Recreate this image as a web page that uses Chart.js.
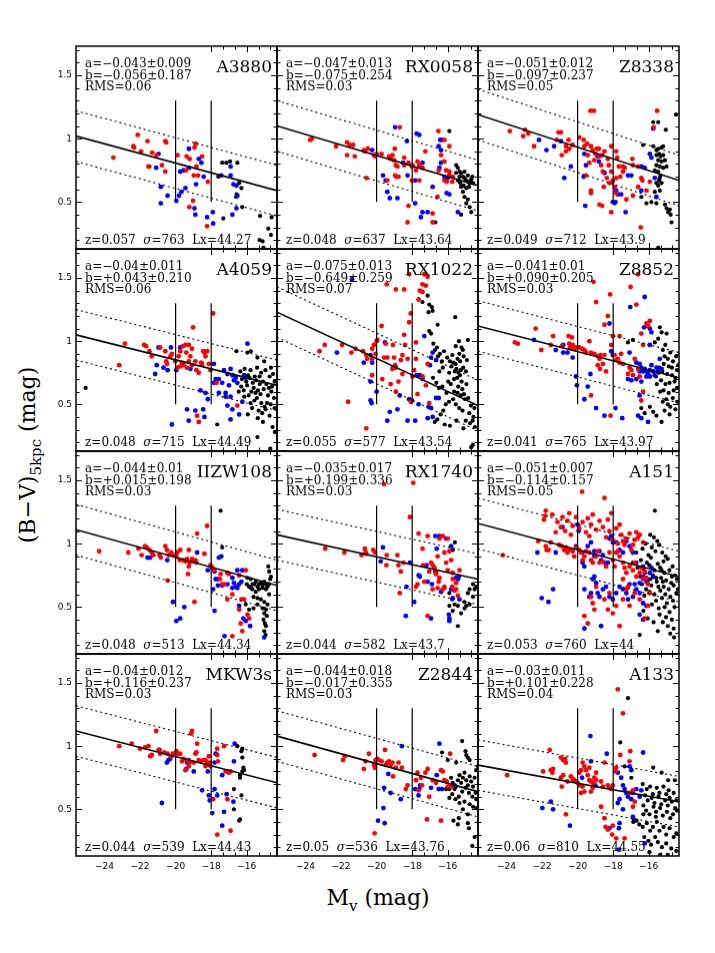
<!DOCTYPE html>
<html>
<head>
<meta charset="utf-8">
<script src="https://cdn.jsdelivr.net/npm/chart.js@4.4.0/dist/chart.umd.min.js"></script>
<style>
  html,body{margin:0;padding:0;background:#fff;}
  #wrap{position:relative;width:715px;height:953px;overflow:hidden;background:#fff;}
  canvas{position:absolute;}
  .ytitle{position:absolute;left:30px;top:455px;transform:translate(-50%,-50%) rotate(-90deg);font-family:"DejaVu Serif",serif;font-size:22px;white-space:nowrap;color:#000;}
  .xtitle{position:absolute;left:378px;top:900px;transform:translate(-50%,-50%);font-family:"DejaVu Serif",serif;font-size:22px;white-space:nowrap;color:#000;}
  sub{font-size:15px;}
</style>
</head>
<body>
<div id="wrap">
  <div class="ytitle">(B−V)<sub>5kpc</sub> (mag)</div>
  <div class="xtitle">M<sub>v</sub> (mag)</div>
</div>
<script>
// ---------------- DATA ----------------
const clusterNames = ['A3880','RX0058','Z8338','A4059','RX1022','Z8852','IIZW108','RX1740','A151','MKW3s','Z2844','A133'];
const slopeLabels = ['−0.043±0.009','−0.047±0.013','−0.051±0.012','−0.04±0.011','−0.075±0.013','−0.041±0.01','−0.044±0.01','−0.035±0.017','−0.051±0.007','−0.04±0.012','−0.044±0.018','−0.03±0.011'];
const interceptLabels = ['−0.056±0.187','−0.075±0.254','−0.097±0.237','+0.043±0.210','−0.649±0.259','+0.090±0.205','+0.015±0.198','+0.199±0.336','−0.114±0.157','+0.116±0.237','−0.017±0.355','+0.101±0.228'];
const rmsLabels = ['0.06','0.03','0.05','0.06','0.07','0.03','0.03','0.03','0.05','0.03','0.03','0.04'];
const redshiftLabels = ['0.057','0.048','0.049','0.048','0.055','0.041','0.048','0.044','0.053','0.044','0.05','0.06'];
const sigmaLabels = ['763','637','712','715','577','765','513','582','760','539','536','810'];
const lxLabels = ['44.27','43.64','43.9','44.49','43.54','43.97','44.34','43.7','44','44.43','43.76','44.55'];

// fitted relation: colour at left (Mv=-25.6) and right (Mv=-14.3) edge
const fitLeft  = [1.02,1.10,1.19,1.05,1.23,1.12,1.11,1.07,1.16,1.12,1.08,0.85];
const fitRight = [0.59,0.63,0.67,0.65,0.49,0.71,0.67,0.72,0.74,0.71,0.64,0.56];
const bandOffset = 0.2;
const magCuts = [-20,-18];
const cutRange = [0.5,1.3];
const xRange = [-25.6,-14.3];
const yRange = [0.13,1.73];
const xTickLabels = [-24,-22,-20,-18,-16];
const yTickLabels = [0.5,1,1.5];

const red_A3880 = [[-23.5,0.85],[-22.38,0.94],[-22.34,0.93],[-22.13,1.03],[-21.94,0.90],[-21.58,0.98],[-21.32,0.89],[-21.53,0.78],[-20.58,0.98],[-20.53,0.97],[-21.08,0.87],[-20.77,0.79],[-19.89,0.87],[-19.38,0.86],[-18.87,0.96],[-18.94,0.93],[-19.21,0.84],[-18.51,0.86],[-18.83,0.78],[-18.98,0.71],[-18.74,0.71],[-18.19,0.66],[-19.02,0.51],[-19.23,0.46],[-18.23,0.31],[-19.42,0.75],[-20.58,0.74]];
const blue_A3880 = [[-20.96,0.88],[-21.09,0.77],[-20.83,0.62],[-20.45,0.55],[-20.83,0.49],[-19.96,0.51],[-19.81,0.55],[-19.68,0.58],[-19.45,0.61],[-19.74,0.74],[-19.55,0.75],[-19.25,0.77],[-19.25,0.92],[-18.70,0.84],[-18.85,0.64],[-18.89,0.40],[-18.94,0.45],[-18.42,0.70],[-18.23,0.38],[-17.91,0.42],[-17.89,0.33],[-17.43,0.71],[-16.91,0.78],[-16.91,0.71],[-16.75,0.64],[-16.58,0.63],[-16.53,0.55],[-16.81,0.40],[-16.58,0.45],[-18.55,0.81]];
const black_A3880 = [[-21.47,0.78],[-17.6,0.70],[-17.38,0.81],[-16.94,0.82],[-16.53,0.81],[-17.15,0.81],[-16.43,0.65],[-16.30,0.61],[-16.57,0.56],[-16.6,0.54],[-16.25,0.46],[-17.32,0.37],[-15.25,0.39],[-14.6,0.38],[-14.79,0.29],[-14.64,0.24],[-15.28,0.20],[-15.11,0.19],[-15.06,0.14]];

const red_RX0058 = [[-23.74,0.99],[-23.64,1.00],[-22.28,0.94],[-21.66,0.97],[-21.51,0.95],[-21.32,0.95],[-21.66,0.87],[-21.23,0.86],[-20.72,0.91],[-20.66,0.90],[-20.49,0.92],[-20.15,0.87],[-20.09,0.86],[-20.0,0.88],[-19.72,0.88],[-19.30,0.86],[-19.21,0.84],[-18.98,0.92],[-19.11,0.87],[-19.02,0.83],[-18.70,1.09],[-18.45,0.85],[-18.92,0.79],[-18.83,0.78],[-18.45,0.79],[-18.21,0.81],[-17.98,0.79],[-17.70,0.82],[-17.60,0.79],[-18.02,0.78],[-17.42,0.77],[-17.79,0.75],[-18.02,0.67],[-17.60,0.67],[-18.96,0.71],[-18.89,0.70],[-18.77,0.70],[-18.21,0.47],[-18.26,0.34],[-19.40,0.67],[-20.57,0.69],[-17.26,0.90],[-16.53,1.06],[-16.19,0.99],[-15.91,0.94],[-16.38,0.87],[-16.19,0.82],[-16.09,0.75],[-15.91,0.74],[-15.91,0.71],[-16.19,0.67],[-16.06,0.66],[-16.51,0.75],[-15.72,0.70],[-15.75,0.66],[-16.85,0.34],[-16.58,0.54],[-16.85,0.41]];
const blue_RX0058 = [[-20.25,0.91],[-18.96,1.09],[-17.75,1.04],[-17.60,1.03],[-18.30,0.98],[-19.64,0.71],[-19.49,0.67],[-19.40,0.58],[-19.26,0.53],[-18.83,0.53],[-18.26,0.71],[-17.83,0.67],[-17.83,0.49],[-17.42,0.81],[-16.85,0.62],[-17.42,0.42],[-17.13,0.42],[-17.51,0.38],[-16.42,0.99],[-16.32,0.99],[-16.51,0.94],[-16.38,0.91],[-16.38,0.81],[-16.47,0.77],[-16.19,0.70],[-16.0,0.69],[-16.06,0.57],[-15.91,0.56],[-15.43,0.42],[-18.51,0.81]];
const black_RX0058 = [[-15.91,1.06],[-16.70,0.34],[-15.53,0.79],[-15.43,0.77],[-15.34,0.74],[-15.25,0.73],[-15.15,0.70],[-15.06,0.69],[-14.96,0.67],[-14.87,0.66],[-14.77,0.65],[-14.68,0.68],[-15.38,0.67],[-15.30,0.65],[-15.11,0.63],[-14.96,0.61],[-14.81,0.62],[-14.72,0.66],[-14.62,0.70],[-15.15,0.58],[-15.06,0.54],[-14.87,0.52],[-14.96,0.49],[-14.77,0.46],[-14.68,0.42],[-15.25,0.40],[-15.43,0.67],[-15.25,0.62],[-15.06,0.74],[-14.87,0.71],[-14.58,0.65],[-15.53,0.73],[-15.34,0.70]];

const red_Z8338 = [[-23.81,1.06],[-22.96,1.07],[-23.06,1.02],[-22.77,1.04],[-22.45,0.94],[-21.17,0.99],[-21.08,1.05],[-20.94,1.05],[-20.66,0.94],[-20.89,0.87],[-20.66,0.90],[-20.47,0.92],[-20.51,0.99],[-20.28,0.95],[-19.91,1.01],[-19.66,0.99],[-19.28,1.22],[-19.09,1.22],[-19.62,0.94],[-19.47,0.96],[-19.25,0.94],[-19.15,0.91],[-19.0,0.88],[-18.92,0.92],[-18.81,0.92],[-18.77,0.86],[-18.62,0.87],[-18.49,0.90],[-18.30,0.84],[-18.25,0.79],[-18.11,0.94],[-17.83,0.90],[-17.77,0.85],[-17.68,0.78],[-17.45,0.78],[-19.43,0.87],[-19.34,0.81],[-19.53,0.71],[-19.25,0.59],[-19.25,0.57],[-19.06,0.83],[-18.68,0.79],[-18.58,0.74],[-18.53,0.62],[-18.36,0.69],[-18.02,0.67],[-17.83,0.69],[-17.60,0.70],[-17.45,0.74],[-17.36,0.77],[-16.92,0.84],[-16.89,0.79],[-16.60,0.78],[-16.60,0.62],[-16.42,0.69],[-16.36,0.67],[-16.13,0.59],[-15.94,0.66],[-15.53,1.22],[-15.72,1.09],[-18.77,0.48],[-18.62,0.47],[-18.11,0.42],[-17.83,0.57],[-16.89,0.55],[-16.45,0.30],[-17.26,0.52],[-18.21,0.65],[-17.92,0.62],[-18.11,0.74]];
const blue_Z8338 = [[-22.17,0.99],[-21.75,0.91],[-21.32,0.94],[-20.94,0.98],[-20.38,0.78],[-20.75,0.69],[-19.62,0.88],[-19.53,0.79],[-19.66,0.70],[-19.57,0.47],[-18.81,0.82],[-18.87,0.86],[-18.49,0.73],[-18.02,0.50],[-17.87,0.50],[-17.74,0.56],[-17.55,0.56],[-17.83,0.59],[-17.30,0.42],[-17.17,0.71],[-16.98,0.71],[-16.42,0.78],[-15.94,0.88],[-15.75,1.08],[-15.85,0.85],[-15.66,0.69],[-15.57,0.54],[-16.42,0.59],[-16.23,0.77]];
const black_Z8338 = [[-16.32,0.95],[-15.75,1.13],[-15.47,1.13],[-15.04,1.07],[-15.75,0.94],[-15.57,0.91],[-15.47,0.92],[-15.28,0.93],[-15.19,0.94],[-15.42,0.88],[-15.34,0.86],[-15.47,0.83],[-15.57,0.79],[-15.38,0.78],[-15.19,0.77],[-15.66,0.75],[-15.47,0.74],[-15.34,0.71],[-15.19,0.87],[-15.0,0.78],[-15.42,0.67],[-15.57,0.65],[-15.47,0.63],[-15.38,0.59],[-15.66,0.58],[-15.57,0.49],[-15.85,0.50],[-15.09,0.48],[-15.0,0.45],[-14.81,0.44],[-14.77,0.40],[-14.91,0.42],[-14.72,0.34],[-14.47,1.19],[-15.47,0.14],[-16.13,0.49],[-16.42,0.54],[-18.02,0.66],[-17.92,0.49],[-15.28,0.82],[-15.09,0.83],[-15.57,0.87],[-15.38,0.69],[-15.28,0.65]];

const red_A4059 = [[-23.17,0.81],[-22.85,0.98],[-21.77,0.97],[-21.47,0.92],[-21.34,0.88],[-21.66,0.96],[-20.87,0.95],[-20.58,0.92],[-20.53,0.84],[-20.49,0.82],[-20.30,0.88],[-20.21,0.90],[-20.02,0.84],[-19.83,0.88],[-19.74,0.92],[-19.58,0.96],[-19.45,0.97],[-19.26,0.97],[-19.08,0.94],[-19.40,0.91],[-19.17,0.88],[-19.64,0.83],[-19.55,0.81],[-19.36,0.79],[-19.26,0.84],[-19.08,0.81],[-18.89,0.84],[-19.74,0.80],[-19.92,0.79],[-18.45,0.92],[-18.38,0.91],[-18.32,0.88],[-18.23,0.92],[-18.57,0.83],[-18.51,0.82],[-18.83,0.77],[-18.70,0.75],[-19.02,1.11],[-17.89,1.22],[-18.04,0.77],[-18.79,0.41],[-18.70,0.36],[-18.13,0.82],[-17.70,0.67],[-16.53,0.49]];
const blue_A4059 = [[-20.96,0.95],[-21.06,0.81],[-21.15,0.74],[-20.68,0.79],[-20.45,0.77],[-20.26,0.95],[-19.74,0.95],[-19.96,0.77],[-19.17,0.78],[-19.36,0.46],[-19.26,0.37],[-18.89,0.45],[-18.45,0.46],[-18.38,0.40],[-20.21,0.34],[-18.60,0.61],[-18.32,0.59],[-18.19,0.54],[-17.85,0.82],[-17.75,0.70],[-17.85,0.67],[-17.57,0.70],[-17.57,0.59],[-17.38,0.67],[-17.28,0.77],[-17.09,0.74],[-16.91,0.78],[-16.81,0.73],[-16.72,0.69],[-16.62,0.71],[-16.53,0.67],[-17.0,0.65],[-17.19,0.59],[-16.91,0.56],[-17.09,0.49],[-16.81,0.46],[-16.91,0.38],[-16.43,0.42],[-16.25,0.52],[-16.15,0.73],[-15.96,0.98],[-16.06,0.71],[-17.19,0.56]];
const black_A4059 = [[-25.06,0.63],[-16.58,0.92],[-15.96,0.91],[-15.77,0.92],[-15.40,0.87],[-15.02,0.84],[-14.64,0.79],[-16.36,0.76],[-16.12,0.78],[-15.93,0.73],[-15.79,0.77],[-15.55,0.72],[-15.42,0.79],[-15.19,0.75],[-14.95,0.77],[-14.71,0.72],[-14.52,0.74],[-16.27,0.70],[-16.03,0.68],[-15.85,0.71],[-15.66,0.67],[-15.47,0.69],[-15.28,0.72],[-15.09,0.68],[-14.90,0.66],[-14.76,0.63],[-14.43,0.68],[-16.31,0.64],[-16.17,0.61],[-15.98,0.65],[-15.74,0.60],[-15.61,0.63],[-15.37,0.61],[-15.23,0.58],[-15.05,0.62],[-14.81,0.57],[-14.62,0.60],[-14.47,0.55],[-16.14,0.56],[-15.89,0.57],[-15.57,0.53],[-15.43,0.55],[-15.18,0.51],[-15.00,0.48],[-14.86,0.51],[-14.66,0.50],[-14.44,0.47],[-15.70,0.47],[-15.33,0.45],[-15.13,0.43],[-14.94,0.46],[-14.72,0.41],[-15.94,0.42],[-15.38,0.39],[-15.09,0.36],[-15.79,0.51],[-15.51,0.59],[-17.66,0.34],[-15.40,0.24],[-14.68,0.15],[-14.55,0.32],[-14.42,0.28],[-16.45,0.60],[-15.27,0.66],[-14.58,0.64]];

const red_RX1022 = [[-23.21,0.92],[-22.92,0.97],[-21.94,0.97],[-21.42,0.91],[-21.19,0.94],[-20.77,0.92],[-20.58,0.89],[-20.53,0.86],[-20.25,0.94],[-20.15,0.97],[-20.25,0.86],[-20.06,0.90],[-20.0,1.0],[-19.96,1.01],[-19.72,1.12],[-19.49,0.98],[-19.58,0.87],[-19.40,0.87],[-19.08,0.97],[-19.02,0.87],[-18.96,0.81],[-18.92,0.79],[-18.64,0.85],[-18.55,0.89],[-18.55,0.74],[-18.45,1.05],[-18.40,0.97],[-18.26,0.86],[-18.17,1.15],[-18.08,1.22],[-18.08,0.52],[-17.98,0.72],[-17.89,0.77],[-17.79,0.86],[-17.79,0.99],[-17.64,1.33],[-17.70,0.58],[-17.57,1.40],[-17.42,1.45],[-17.42,1.39],[-17.23,1.44],[-17.13,1.51],[-17.32,1.53],[-17.13,0.82],[-17.42,0.72],[-17.23,0.65],[-17.04,0.51],[-18.17,1.53],[-19.43,1.45],[-18.92,1.41],[-18.45,1.41],[-21.60,0.52],[-20.58,0.31],[-20.25,0.73],[-18.92,0.60],[-19.21,0.66],[-18.77,0.68],[-19.11,0.78],[-19.68,0.70]];
const blue_RX1022 = [[-21.38,1.49],[-22.23,0.91],[-20.72,0.83],[-20.34,0.89],[-20.25,0.83],[-20.34,0.68],[-20.0,0.60],[-20.34,0.53],[-20.28,0.51],[-19.53,0.99],[-19.08,0.79],[-19.26,0.44],[-19.40,0.37],[-18.83,0.46],[-18.70,0.57],[-18.26,0.37],[-17.83,0.37],[-18.17,0.54],[-18.02,0.53],[-17.75,0.73],[-17.57,0.73],[-17.64,0.50],[-17.32,1.04],[-17.42,0.70],[-17.0,0.81],[-16.94,0.87],[-16.85,0.91],[-16.66,0.85],[-17.08,0.48],[-17.13,0.39],[-16.85,0.40],[-16.66,0.55],[-16.51,0.55],[-16.94,0.47]];
const black_RX1022 = [[-17.42,1.31],[-17.13,1.36],[-17.04,1.29],[-16.89,1.27],[-17.08,1.23],[-16.85,1.24],[-16.57,1.13],[-17.04,1.08],[-16.94,1.06],[-15.58,1.19],[-16.81,0.98],[-16.72,0.93],[-16.61,0.95],[-16.55,0.88],[-16.44,0.90],[-16.33,0.84],[-16.21,0.92],[-16.03,0.87],[-15.88,0.84],[-15.79,0.80],[-15.69,0.83],[-15.60,0.76],[-15.51,0.78],[-15.47,0.71],[-15.31,0.73],[-15.22,0.68],[-15.18,0.62],[-15.09,0.58],[-15.55,0.96],[-15.37,1.00],[-15.23,0.95],[-15.11,0.88],[-15.45,0.86],[-15.74,0.89],[-15.56,0.82],[-15.30,0.84],[-15.13,0.79],[-14.98,0.76],[-15.27,0.77],[-15.40,0.75],[-15.65,0.70],[-15.41,0.64],[-15.26,0.57],[-15.03,0.54],[-14.85,0.55],[-14.70,0.49],[-14.50,0.47],[-14.79,0.43],[-14.56,0.40],[-14.99,0.37],[-15.17,0.45],[-15.36,0.47],[-15.55,0.50],[-15.70,0.54],[-15.93,0.52],[-16.11,0.50],[-16.25,0.45],[-16.40,0.42],[-16.59,0.38],[-16.73,0.36],[-16.17,0.34],[-15.88,0.33],[-15.51,0.37],[-15.12,0.31],[-14.75,0.35],[-14.60,0.37],[-14.47,0.32],[-16.83,0.71],[-16.64,0.67],[-16.49,0.63],[-16.30,0.64],[-16.07,0.59],[-15.98,0.68],[-15.83,0.66],[-15.64,0.60],[-15.45,0.59],[-14.68,0.16],[-14.58,0.18],[-14.92,0.85],[-15.15,0.93],[-14.87,1.01],[-16.28,0.79],[-16.47,0.76],[-15.92,0.75],[-15.35,0.90],[-14.95,0.66]];

const red_Z8852 = [[-23.53,0.99],[-23.36,0.98],[-22.36,1.10],[-22.04,0.93],[-21.38,1.04],[-21.51,0.97],[-20.89,0.96],[-20.51,1.04],[-20.32,1.03],[-20.47,0.98],[-20.42,0.95],[-20.28,0.97],[-20.19,0.94],[-20.09,0.95],[-19.91,0.95],[-19.75,0.94],[-19.62,0.93],[-19.34,1.0],[-19.25,0.91],[-19.53,0.91],[-19.06,0.90],[-18.87,0.88],[-18.77,0.86],[-18.87,0.81],[-18.74,0.78],[-18.58,0.82],[-19.11,1.47],[-18.72,0.89],[-18.49,0.89],[-18.49,1.13],[-18.17,1.37],[-18.11,0.97],[-18.40,0.76],[-19.25,0.57],[-18.15,0.41],[-17.92,0.89],[-17.83,0.85],[-17.74,0.86],[-17.64,0.83],[-17.55,0.90],[-17.45,0.82],[-17.17,0.74],[-17.08,0.79],[-16.98,0.77],[-16.89,0.73],[-17.02,1.43],[-16.70,1.29],[-16.60,1.53],[-16.79,0.86],[-16.60,0.78],[-16.51,0.72],[-16.32,0.97],[-16.42,1.06],[-16.13,1.14],[-16.04,1.12],[-15.94,1.16],[-16.32,0.60],[-16.42,0.53],[-18.02,1.04],[-17.64,1.04],[-18.96,1.31],[-18.30,1.20]];
const blue_Z8852 = [[-22.45,1.01],[-21.23,0.93],[-20.81,0.97],[-20.81,0.91],[-20.57,0.91],[-20.28,0.87],[-20.09,0.72],[-20.04,0.65],[-19.43,0.64],[-19.28,0.74],[-19.62,0.54],[-18.96,0.47],[-18.49,0.41],[-18.21,1.14],[-18.11,0.92],[-18.02,0.89],[-17.87,0.47],[-17.49,0.39],[-17.04,1.27],[-16.23,1.35],[-16.26,1.11],[-15.85,1.07],[-15.94,0.97],[-15.94,1.10],[-17.08,0.91],[-17.17,0.70],[-16.98,0.69],[-16.70,0.83],[-16.51,0.82],[-16.42,0.79],[-16.23,0.78],[-16.13,0.76],[-16.04,0.74],[-15.94,0.77],[-15.85,0.81],[-15.75,0.76],[-15.66,0.73],[-15.57,0.79],[-15.47,0.77],[-15.38,0.86],[-15.28,0.78],[-16.32,0.76],[-16.51,0.76],[-16.70,0.70],[-16.42,0.68],[-16.13,0.72],[-15.94,0.72],[-16.60,0.41],[-16.42,0.39],[-16.04,0.36],[-16.51,0.57]];
const black_Z8852 = [[-17.17,0.99],[-16.89,1.01],[-15.94,0.97],[-15.66,0.99],[-15.47,1.02],[-15.38,1.11],[-15.28,1.07],[-15.21,0.93],[-15.07,0.97],[-15.0,1.06],[-14.93,0.86],[-14.79,0.91],[-14.70,0.79],[-14.64,0.84],[-14.51,0.71],[-14.41,0.77],[-15.16,0.82],[-15.11,0.88],[-14.97,0.74],[-14.88,0.80],[-14.83,0.67],[-14.69,0.73],[-14.60,0.61],[-14.55,0.68],[-14.41,0.63],[-15.31,0.69],[-15.17,0.61],[-15.06,0.66],[-15.02,0.54],[-14.88,0.59],[-14.79,0.48],[-15.21,0.52],[-15.36,0.60],[-15.55,0.66],[-15.60,0.72],[-15.45,0.75],[-14.65,0.55],[-14.50,0.46],[-14.40,0.52],[-15.11,0.45],[-14.93,0.50],[-14.83,0.42],[-15.28,0.36],[-15.75,0.44],[-15.57,0.41],[-15.94,0.48],[-16.23,0.43],[-16.42,0.47],[-14.46,0.88],[-14.34,0.81],[-15.40,0.79],[-15.24,0.76]];

const red_IIZW108 = [[-24.30,0.94],[-22.66,0.93],[-22.09,0.96],[-21.91,0.91],[-21.72,0.98],[-21.62,0.97],[-21.47,0.95],[-21.34,0.93],[-21.25,0.91],[-20.91,0.91],[-20.83,0.89],[-20.58,0.98],[-20.49,0.95],[-20.40,0.91],[-20.25,0.93],[-20.11,0.91],[-19.92,0.93],[-19.96,0.90],[-19.74,0.95],[-19.77,0.87],[-19.58,0.87],[-19.45,0.86],[-19.36,0.88],[-19.26,0.95],[-19.21,0.85],[-19.08,0.88],[-18.98,0.86],[-18.89,0.87],[-18.83,0.85],[-19.26,0.82],[-19.30,0.76],[-18.79,1.08],[-18.38,0.92],[-18.23,1.14],[-18.04,0.83],[-17.94,0.81],[-17.85,0.79],[-17.47,0.76],[-17.09,0.77],[-17.0,0.76],[-16.43,0.75],[-16.06,0.79],[-20.45,0.71],[-18.94,0.54],[-17.09,0.56],[-16.81,0.60],[-16.30,0.56],[-16.15,0.56],[-16.43,0.48],[-15.96,0.44],[-15.87,0.41],[-16.34,0.37],[-16.81,0.27],[-16.25,0.31],[-17.51,0.72],[-17.38,0.68],[-17.25,0.68]];
const blue_IIZW108 = [[-21.58,0.89],[-21.43,0.89],[-20.47,0.87],[-18.79,0.93],[-18.19,0.79],[-17.57,0.89],[-17.43,0.90],[-17.81,0.78],[-17.75,0.72],[-17.62,0.72],[-17.89,0.64],[-17.62,0.67],[-17.38,0.67],[-17.09,0.68],[-16.81,0.73],[-16.72,0.69],[-16.62,0.66],[-16.53,0.65],[-16.43,0.68],[-16.30,0.70],[-16.53,0.79],[-16.25,0.79],[-16.81,0.65],[-20.15,0.54],[-19.96,0.39],[-19.74,0.41],[-19.51,0.50],[-17.81,0.47],[-16.43,0.51],[-16.19,0.41],[-16.06,0.39],[-15.81,0.35],[-17.25,0.27],[-15.02,0.26]];
const black_IIZW108 = [[-17.47,1.26],[-17.38,0.97],[-15.96,0.73],[-15.77,0.72],[-15.68,0.68],[-15.58,0.68],[-15.49,0.70],[-15.40,0.66],[-15.30,0.68],[-15.21,0.69],[-15.11,0.67],[-15.02,0.70],[-14.92,0.68],[-14.83,0.66],[-14.74,0.68],[-14.68,0.72],[-14.64,0.74],[-14.74,0.78],[-14.79,0.82],[-15.77,0.65],[-15.68,0.64],[-15.49,0.62],[-15.30,0.64],[-15.11,0.65],[-14.92,0.64],[-14.74,0.60],[-15.40,0.57],[-15.21,0.56],[-15.02,0.54],[-14.83,0.52],[-15.11,0.49],[-14.92,0.48],[-15.02,0.45],[-14.87,0.43],[-15.06,0.40],[-14.98,0.37],[-14.92,0.35],[-15.02,0.31],[-14.94,0.28],[-16.06,0.52],[-15.87,0.48],[-15.62,0.49],[-15.40,0.52],[-15.87,0.66],[-16.0,0.68],[-15.62,0.58]];

const red_RX1740 = [[-22.89,0.96],[-21.81,0.93],[-20.85,0.91],[-20.66,0.96],[-20.62,0.93],[-20.58,0.92],[-20.19,0.95],[-20.09,0.93],[-19.58,1.47],[-19.43,0.91],[-19.45,0.83],[-18.83,0.91],[-18.77,0.83],[-18.64,0.78],[-18.49,0.85],[-18.13,1.21],[-17.94,1.48],[-17.64,1.08],[-17.42,0.96],[-17.13,1.06],[-17.79,0.66],[-17.70,0.68],[-17.38,0.83],[-17.32,0.70],[-17.04,0.78],[-16.94,0.85],[-16.85,0.83],[-16.75,0.81],[-16.66,0.77],[-16.57,0.90],[-16.47,1.04],[-16.28,1.06],[-16.19,0.93],[-16.09,0.85],[-16.0,1.04],[-16.0,0.79],[-15.91,0.94],[-15.81,0.87],[-15.72,0.77],[-16.66,0.76],[-16.51,0.70],[-16.28,0.64],[-16.19,0.65],[-15.75,0.66],[-15.62,0.63],[-15.53,0.64],[-15.43,0.59],[-15.34,0.79],[-15.72,0.72],[-15.53,0.69],[-18.70,0.61],[-17.13,0.43],[-16.47,0.73],[-16.85,0.64],[-16.57,0.65]];
const blue_RX1740 = [[-19.64,0.97],[-19.77,0.86],[-18.32,0.66],[-18.13,0.85],[-17.89,0.54],[-18.36,0.43],[-17.64,0.75],[-17.57,0.74],[-17.19,0.83],[-17.13,0.70],[-16.89,0.68],[-16.70,0.78],[-16.62,0.96],[-16.70,1.06],[-16.47,1.06],[-16.09,1.04],[-15.81,0.98],[-16.94,0.41],[-15.94,0.44],[-15.91,0.41],[-15.91,0.39],[-15.72,0.57],[-15.53,0.73],[-15.43,0.72],[-15.38,0.74],[-15.34,0.56],[-15.81,0.64],[-16.38,0.62]];
const black_RX1740 = [[-15.60,1.01],[-15.72,0.95],[-16.19,0.66],[-15.91,0.61],[-15.75,0.56],[-15.62,0.52],[-15.43,0.51],[-15.91,0.51],[-15.72,0.47],[-15.25,0.45],[-15.43,0.35],[-15.06,0.49],[-14.96,0.51],[-14.77,0.52],[-14.58,0.58],[-14.49,0.64],[-14.40,0.66],[-14.87,0.61],[-14.77,0.64],[-14.58,0.68],[-15.06,0.54]];

const red_A151 = [[-24.21,0.91],[-22.21,1.02],[-21.79,1.26],[-21.83,1.22],[-21.89,1.19],[-21.42,1.23],[-21.64,0.95],[-21.74,0.95],[-21.23,1.09],[-21.13,1.17],[-20.94,1.13],[-20.85,1.21],[-20.70,1.10],[-20.57,1.18],[-20.47,1.24],[-20.38,1.07],[-20.28,1.14],[-20.09,1.21],[-19.91,1.12],[-19.75,1.41],[-19.72,1.17],[-19.53,1.09],[-19.43,1.20],[-19.34,1.06],[-19.25,1.15],[-19.15,1.23],[-18.96,1.11],[-18.77,1.18],[-18.58,1.13],[-18.49,1.36],[-18.40,1.05],[-18.30,1.19],[-18.21,1.10],[-18.11,1.24],[-18.02,1.03],[-17.83,1.12],[-17.74,1.00],[-17.64,1.15],[-17.55,1.07],[-17.45,1.02],[-17.36,0.99],[-17.26,1.04],[-17.08,1.08],[-16.98,0.95],[-16.89,0.99],[-16.79,1.03],[-16.70,1.09],[-16.60,1.05],[-16.51,1.07],[-16.32,1.01],[-21.79,0.98],[-21.51,1.01],[-21.04,0.99],[-20.89,0.98],[-20.75,0.95],[-20.66,0.97],[-20.57,0.93],[-20.47,0.95],[-20.28,0.94],[-20.19,0.90],[-20.09,0.97],[-19.91,0.95],[-19.81,0.93],[-19.72,0.87],[-19.62,0.90],[-19.53,0.94],[-19.34,0.93],[-19.25,0.87],[-19.15,0.85],[-18.96,0.90],[-18.87,0.94],[-18.77,0.85],[-18.58,0.86],[-18.40,0.82],[-18.21,0.93],[-18.02,0.87],[-17.92,0.82],[-17.83,0.93],[-17.74,0.94],[-17.64,0.90],[-17.45,0.85],[-17.36,0.81],[-17.26,0.77],[-17.08,0.82],[-16.89,0.79],[-16.79,0.85],[-16.70,0.74],[-16.51,0.77],[-16.42,0.81],[-16.32,0.72],[-16.23,0.78],[-16.13,0.73],[-16.04,0.68],[-19.25,0.58],[-19.15,0.53],[-19.06,0.48],[-18.96,0.66],[-18.49,0.56],[-18.30,0.48],[-18.21,0.61],[-18.02,0.45],[-17.83,0.51],[-17.64,0.35],[-17.45,0.56],[-17.26,0.64],[-17.08,0.51],[-16.79,0.61],[-16.51,0.56],[-19.62,0.43],[-19.43,0.37],[-16.23,0.41],[-16.04,0.51],[-15.94,0.61],[-17.45,0.72],[-17.17,0.66]];
const blue_A151 = [[-22.26,0.93],[-22.02,0.57],[-21.64,0.54],[-21.38,0.64],[-21.23,0.93],[-20.85,1.13],[-20.0,1.15],[-19.94,1.10],[-20.09,0.98],[-19.75,0.93],[-19.72,0.85],[-19.62,0.82],[-19.43,0.98],[-19.25,1.01],[-19.06,0.94],[-19.06,0.90],[-18.77,0.94],[-18.68,0.87],[-18.58,0.91],[-18.49,0.85],[-18.30,0.85],[-18.21,1.04],[-18.11,1.06],[-18.02,1.01],[-17.83,1.01],[-17.64,0.95],[-17.45,0.93],[-17.26,1.02],[-17.08,0.98],[-16.89,0.93],[-16.70,0.85],[-16.32,0.82],[-15.94,0.77],[-15.85,0.81],[-15.75,0.74],[-16.32,0.74],[-16.13,0.70],[-16.51,0.69],[-16.79,0.68],[-19.62,0.64],[-19.34,0.58],[-19.15,0.72],[-19.06,0.74],[-18.96,0.69],[-18.87,0.61],[-18.77,0.58],[-18.58,0.64],[-18.40,0.66],[-18.21,0.58],[-18.02,0.56],[-17.83,0.61],[-17.64,0.66],[-17.45,0.64],[-17.26,0.61],[-17.08,0.68],[-16.89,0.58],[-16.70,0.64],[-16.51,0.61],[-16.32,0.53],[-16.13,0.51],[-16.51,0.44],[-16.32,0.40],[-19.62,0.33],[-18.68,0.35],[-19.25,0.61],[-17.17,0.56]];
const black_A151 = [[-15.66,1.26],[-15.92,1.07],[-15.71,1.05],[-15.52,1.02],[-16.18,1.00],[-15.83,0.97],[-15.41,0.99],[-15.24,0.93],[-16.35,0.96],[-16.02,0.91],[-15.63,0.94],[-15.05,0.90],[-16.44,0.87],[-16.11,0.85],[-15.88,0.89],[-15.49,0.84],[-15.17,0.86],[-14.93,0.88],[-14.66,0.82],[-16.63,0.81],[-16.29,0.80],[-15.97,0.83],[-15.69,0.79],[-15.36,0.81],[-15.12,0.77],[-14.84,0.79],[-14.52,0.75],[-16.48,0.74],[-16.21,0.77],[-16.07,0.71],[-15.77,0.75],[-15.55,0.70],[-15.31,0.73],[-15.02,0.71],[-14.74,0.69],[-14.41,0.72],[-16.39,0.68],[-16.15,0.64],[-15.86,0.67],[-15.46,0.66],[-15.21,0.70],[-14.88,0.64],[-14.60,0.67],[-15.96,0.62],[-15.68,0.60],[-15.35,0.63],[-15.07,0.60],[-14.79,0.58],[-14.45,0.61],[-16.25,0.59],[-15.59,0.55],[-15.26,0.57],[-14.98,0.53],[-14.64,0.55],[-15.82,0.52],[-15.44,0.49],[-15.11,0.50],[-14.83,0.46],[-14.55,0.50],[-15.39,0.44],[-15.03,0.42],[-14.70,0.40],[-15.21,0.38],[-14.93,0.35],[-14.60,0.33],[-14.79,0.29],[-14.58,0.26],[-15.73,0.38],[-15.49,0.31],[-16.51,0.28],[-16.06,0.41],[-16.30,0.47],[-14.36,0.64],[-16.89,0.85],[-16.70,0.93],[-15.58,0.73],[-15.16,0.66],[-14.70,0.74],[-15.91,0.72],[-15.28,0.79]];

const red_MKW3s = [[-23.17,1.00],[-22.47,1.02],[-22.0,0.98],[-21.72,0.99],[-21.53,1.0],[-21.43,0.92],[-21.34,0.93],[-21.09,1.12],[-20.96,0.97],[-20.87,0.94],[-20.64,0.95],[-20.45,0.94],[-20.26,0.92],[-20.15,0.94],[-19.96,0.96],[-19.89,0.94],[-19.74,0.94],[-19.64,0.88],[-19.55,0.90],[-19.45,0.81],[-19.36,0.89],[-19.21,0.87],[-19.13,1.10],[-19.08,1.12],[-18.98,0.87],[-18.89,0.94],[-18.83,0.95],[-18.79,1.02],[-18.70,0.89],[-18.60,0.88],[-18.42,0.89],[-18.32,0.89],[-18.23,0.87],[-18.13,0.92],[-18.08,0.87],[-18.04,0.84],[-17.66,0.98],[-17.66,0.93],[-17.62,0.88],[-17.28,1.00],[-17.19,0.80],[-17.09,0.80],[-17.0,0.79],[-16.91,0.80],[-18.32,0.84],[-17.89,0.58],[-17.09,0.58],[-17.66,0.30],[-16.91,0.33],[-19.26,0.84]];
const blue_MKW3s = [[-20.91,0.97],[-20.77,0.55],[-20.49,0.87],[-20.40,0.89],[-20.30,0.90],[-19.36,0.87],[-19.26,0.89],[-19.40,0.82],[-18.98,0.80],[-18.19,0.80],[-17.81,0.87],[-17.75,0.94],[-17.38,0.77],[-16.72,0.88],[-16.68,1.02],[-18.51,0.65],[-18.13,0.61],[-18.08,0.57],[-17.81,0.66],[-17.66,0.61],[-17.13,0.62],[-16.75,0.56],[-17.94,0.47],[-17.28,0.48],[-17.38,0.37]];
const black_MKW3s = [[-16.25,0.98],[-16.30,0.96],[-16.25,0.91],[-16.19,0.83],[-16.25,0.80],[-16.38,0.77],[-16.38,0.75],[-16.72,0.66],[-16.30,0.61],[-16.72,0.50],[-16.38,0.42],[-16.43,0.41],[-16.53,1.0],[-16.15,0.81]];

const red_Z2844 = [[-23.49,0.93],[-21.89,0.89],[-21.79,0.92],[-20.72,0.82],[-20.62,0.88],[-20.43,0.94],[-20.15,0.85],[-20.09,0.83],[-20.06,0.89],[-19.96,0.90],[-19.87,0.89],[-19.72,0.88],[-19.53,0.97],[-19.49,0.85],[-19.40,0.87],[-19.30,0.88],[-19.21,0.85],[-19.11,0.87],[-19.08,0.76],[-18.92,0.83],[-18.77,0.87],[-18.58,0.83],[-18.26,0.69],[-18.36,0.66],[-17.79,0.73],[-17.70,0.79],[-17.64,0.65],[-17.26,0.79],[-17.13,0.82],[-17.04,0.60],[-16.85,0.73],[-16.66,0.71],[-16.38,0.81],[-16.28,0.80],[-16.19,0.73],[-16.0,0.68],[-15.87,0.94],[-16.06,0.72],[-15.81,0.68],[-17.17,0.42],[-16.38,0.41],[-20.11,0.31],[-17.45,0.69],[-17.51,0.75]];
const blue_Z2844 = [[-19.34,0.78],[-19.58,0.67],[-19.21,0.63],[-18.64,0.58],[-18.58,1.0],[-19.62,0.51],[-19.92,0.41],[-19.55,0.39],[-17.83,0.66],[-17.60,0.66],[-17.64,0.61],[-17.55,0.69],[-16.94,0.67],[-16.47,1.02],[-16.62,0.77],[-16.51,0.66],[-16.32,0.66],[-15.62,0.69]];
const black_Z2844 = [[-15.19,1.04],[-15.0,0.96],[-14.96,0.93],[-14.87,0.91],[-14.77,0.89],[-16.32,0.95],[-16.0,0.89],[-15.53,0.87],[-15.81,0.75],[-15.72,0.71],[-15.62,0.66],[-15.43,0.73],[-15.34,0.77],[-15.25,0.71],[-15.15,0.75],[-15.06,0.79],[-14.96,0.73],[-14.87,0.69],[-14.77,0.76],[-14.68,0.72],[-14.58,0.68],[-14.49,0.75],[-14.43,0.63],[-14.40,0.58],[-14.62,0.60],[-14.81,0.63],[-15.0,0.67],[-15.19,0.64],[-15.38,0.60],[-15.57,0.58],[-15.75,0.62],[-15.91,0.59],[-15.34,0.55],[-15.06,0.56],[-14.77,0.54],[-14.58,0.52],[-14.40,0.51],[-15.15,0.50],[-14.87,0.46],[-15.38,0.43],[-15.68,0.41],[-15.43,0.38],[-14.87,0.39],[-14.81,0.35],[-14.49,0.28],[-14.62,0.21],[-14.40,0.81],[-14.30,0.84],[-15.53,0.68],[-15.91,0.66],[-16.09,0.66]];

const red_A133 = [[-23.96,0.77],[-21.94,0.80],[-21.57,0.97],[-21.51,0.81],[-21.38,0.82],[-21.42,0.79],[-20.94,0.91],[-20.81,0.89],[-20.70,0.90],[-20.66,0.87],[-20.94,0.75],[-20.81,0.77],[-20.89,0.68],[-20.57,0.72],[-20.38,0.76],[-20.28,0.74],[-20.19,0.73],[-20.09,0.72],[-20.0,0.71],[-19.91,0.79],[-19.81,0.81],[-19.72,0.87],[-19.62,0.84],[-19.53,0.81],[-19.43,0.77],[-19.34,0.73],[-19.25,0.72],[-19.15,0.71],[-19.06,0.75],[-18.96,0.73],[-19.91,0.69],[-19.72,0.68],[-19.81,0.63],[-19.62,0.64],[-19.25,0.64],[-19.15,0.67],[-19.34,0.83],[-18.96,0.79],[-18.68,0.72],[-18.58,0.68],[-18.49,0.87],[-18.30,0.69],[-18.21,0.67],[-18.11,0.66],[-18.02,0.69],[-17.87,0.80],[-17.83,0.83],[-17.60,0.93],[-17.45,1.26],[-17.74,1.45],[-17.04,0.96],[-17.08,0.88],[-16.89,0.65],[-17.08,0.63],[-16.89,0.52],[-16.79,0.56],[-18.68,0.52],[-18.49,0.43],[-18.43,0.36],[-18.30,0.34],[-17.83,0.27],[-17.36,0.27],[-20.66,0.46],[-18.02,0.37],[-18.06,0.30]];
const blue_A133 = [[-21.98,0.51],[-21.51,0.56],[-21.38,0.50],[-20.43,0.37],[-19.28,1.08],[-19.25,0.88],[-19.75,0.75],[-19.0,0.69],[-18.36,0.94],[-18.21,0.35],[-17.68,0.35],[-17.68,0.18],[-16.32,0.95],[-17.74,0.79],[-17.55,0.75],[-17.45,0.69],[-17.36,0.66],[-17.26,0.63],[-17.17,0.60],[-16.98,0.58],[-16.89,0.63],[-16.70,0.66],[-16.51,0.60],[-16.42,0.65],[-17.08,0.84],[-16.98,0.81],[-17.64,0.58],[-17.74,0.55],[-17.45,0.50],[-17.64,0.39],[-16.89,0.44],[-16.23,0.23]];
const black_A133 = [[-17.17,1.38],[-17.60,1.03],[-17.36,0.84],[-16.98,0.75],[-16.34,0.70],[-16.11,0.66],[-15.92,0.68],[-15.77,0.62],[-15.55,0.67],[-15.40,0.63],[-15.17,0.68],[-15.02,0.62],[-14.83,0.59],[-14.60,0.63],[-14.45,0.57],[-16.21,0.61],[-16.06,0.57],[-15.83,0.59],[-15.68,0.55],[-15.45,0.60],[-15.30,0.54],[-15.07,0.57],[-14.93,0.53],[-14.70,0.56],[-14.51,0.51],[-16.30,0.53],[-16.15,0.49],[-15.96,0.46],[-15.73,0.52],[-15.59,0.48],[-15.36,0.51],[-15.21,0.45],[-14.98,0.48],[-14.79,0.43],[-14.64,0.46],[-14.41,0.49],[-16.87,0.43],[-16.68,0.41],[-16.53,0.38],[-16.34,0.36],[-16.11,0.39],[-15.92,0.33],[-15.77,0.36],[-15.55,0.40],[-15.40,0.33],[-15.17,0.36],[-15.02,0.30],[-14.83,0.35],[-14.60,0.28],[-14.45,0.31],[-16.25,0.28],[-16.02,0.25],[-15.87,0.22],[-15.64,0.28],[-15.49,0.24],[-15.26,0.20],[-15.02,0.23],[-14.74,0.19],[-14.45,0.17],[-14.93,0.14],[-15.96,0.16],[-15.36,0.14],[-15.75,0.83],[-15.28,0.79],[-14.91,0.73],[-14.53,0.73],[-16.30,0.46],[-16.87,0.40],[-15.60,0.44],[-14.88,0.65]];

const redSets = [red_A3880,red_RX0058,red_Z8338,red_A4059,red_RX1022,red_Z8852,red_IIZW108,red_RX1740,red_A151,red_MKW3s,red_Z2844,red_A133];
const blueSets = [blue_A3880,blue_RX0058,blue_Z8338,blue_A4059,blue_RX1022,blue_Z8852,blue_IIZW108,blue_RX1740,blue_A151,blue_MKW3s,blue_Z2844,blue_A133];
const blackSets = [black_A3880,black_RX0058,black_Z8338,black_A4059,black_RX1022,black_Z8852,black_IIZW108,black_RX1740,black_A151,black_MKW3s,black_Z2844,black_A133];

// ---------------- LAYOUT ----------------
const colLeft = [76, 277, 477.5];
const rowTop = [46, 248.5, 451, 653.5];
const PW = 201, PH = 202.5, M = 40;

const toXY = arr => arr.map(p => ({x: p[0], y: p[1]}));

function makeDeco(i, row, col) {
  return {
    id: 'deco' + i,
    afterDatasetsDraw(chart) {
      const {ctx, chartArea: a, scales: {x, y}} = chart;
      ctx.save();
      ctx.strokeStyle = '#000';
      ctx.lineWidth = 1;
      ctx.beginPath();
      for (let k = -27; k <= -12; k++) {
        const v = k * 2 / 3;
        if (v < xRange[0] || v > xRange[1]) continue;
        const isMajor = Math.abs(v / 2 - Math.round(v / 2)) < 1e-6;
        const len = isMajor ? 6 : 3.5;
        const px = Math.round(x.getPixelForValue(v)) + 0.5;
        ctx.moveTo(px, a.bottom); ctx.lineTo(px, a.bottom - len);
        ctx.moveTo(px, a.top); ctx.lineTo(px, a.top + len);
      }
      for (let k = 2; k <= 17; k++) {
        const v = k / 10;
        const isMajor = k % 5 === 0;
        const len = isMajor ? 6 : 3.5;
        const py = Math.round(y.getPixelForValue(v)) + 0.5;
        ctx.moveTo(a.left, py); ctx.lineTo(a.left + len, py);
        ctx.moveTo(a.right, py); ctx.lineTo(a.right - len, py);
      }
      ctx.stroke();
      ctx.lineWidth = 1.5;
      ctx.strokeRect(a.left, a.top, a.right - a.left, a.bottom - a.top);

      ctx.fillStyle = '#000';
      if (col === 0) {
        ctx.font = '9px "DejaVu Sans"';
        ctx.textAlign = 'right';
        ctx.textBaseline = 'middle';
        yTickLabels.forEach(v => ctx.fillText(String(v), a.left - 4, y.getPixelForValue(v)));
      }
      if (row === 3) {
        ctx.font = '9px "DejaVu Sans"';
        ctx.textAlign = 'center';
        ctx.textBaseline = 'top';
        xTickLabels.forEach(v => ctx.fillText(String(v).replace('-', '−'), x.getPixelForValue(v), a.bottom + 6));
      }
      ctx.textBaseline = 'alphabetic';
      ctx.textAlign = 'left';
      ctx.font = '12px "DejaVu Serif"';
      const tx = a.left + 9;
      ctx.fillText('a=' + slopeLabels[i], tx, a.top + 21);
      ctx.fillText('b=' + interceptLabels[i], tx, a.top + 32.5);
      ctx.fillText('RMS=' + rmsLabels[i], tx, a.top + 44);
      ctx.font = '17px "DejaVu Serif"';
      ctx.textAlign = 'right';
      ctx.fillText(clusterNames[i], a.right - 5, a.top + 26);
      ctx.textAlign = 'left';
      const by = a.bottom - 5;
      let cx = tx;
      ctx.font = '12px "DejaVu Serif"';
      const p1 = 'z=' + redshiftLabels[i] + '  ';
      ctx.fillText(p1, cx, by); cx += ctx.measureText(p1).width;
      ctx.font = 'italic 12px "DejaVu Serif"';
      ctx.fillText('σ', cx, by); cx += ctx.measureText('σ').width;
      ctx.font = '12px "DejaVu Serif"';
      ctx.fillText('=' + sigmaLabels[i] + '  Lx=' + lxLabels[i], cx, by);
      ctx.restore();
    }
  };
}

const wrap = document.getElementById('wrap');
for (let i = 0; i < 12; i++) {
  const row = Math.floor(i / 3), col = i % 3;
  const cv = document.createElement('canvas');
  const w = PW + 2 * M, h = PH + 2 * M;
  cv.width = w; cv.height = h;
  cv.style.width = w + 'px'; cv.style.height = h + 'px';
  cv.style.left = (colLeft[col] - M) + 'px';
  cv.style.top = (rowTop[row] - M) + 'px';
  wrap.appendChild(cv);

  const lineL = fitLeft[i], lineR = fitRight[i];
  const datasets = [
    {data: [{x: xRange[0], y: lineL}, {x: xRange[1], y: lineR}], showLine: true, borderColor: '#000', borderWidth: 1.6, pointRadius: 0, fill: false},
    {data: [{x: xRange[0], y: lineL + bandOffset}, {x: xRange[1], y: lineR + bandOffset}], showLine: true, borderColor: '#000', borderWidth: 1.1, borderDash: [2, 3], pointRadius: 0, fill: false},
    {data: [{x: xRange[0], y: lineL - bandOffset}, {x: xRange[1], y: lineR - bandOffset}], showLine: true, borderColor: '#000', borderWidth: 1.1, borderDash: [2, 3], pointRadius: 0, fill: false},
    {data: [{x: magCuts[0], y: cutRange[0]}, {x: magCuts[0], y: cutRange[1]}], showLine: true, borderColor: '#000', borderWidth: 1.2, pointRadius: 0, fill: false},
    {data: [{x: magCuts[1], y: cutRange[0]}, {x: magCuts[1], y: cutRange[1]}], showLine: true, borderColor: '#000', borderWidth: 1.2, pointRadius: 0, fill: false},
    {data: toXY(redSets[i]), pointRadius: 2.4, pointBackgroundColor: '#ff0000', pointBorderWidth: 0, borderColor: '#ff0000'},
    {data: toXY(blueSets[i]), pointRadius: 2.4, pointBackgroundColor: '#0000ff', pointBorderWidth: 0, borderColor: '#0000ff'},
    {data: toXY(blackSets[i]), pointRadius: 2.1, pointBackgroundColor: '#000000', pointBorderWidth: 0, borderColor: '#000000'}
  ];
  new Chart(cv, {
    type: 'scatter',
    data: {datasets},
    options: {
      responsive: false,
      animation: false,
      devicePixelRatio: 1,
      layout: {padding: {left: M, right: M, top: M, bottom: M}},
      plugins: {legend: {display: false}, tooltip: {enabled: false}},
      scales: {
        x: {type: 'linear', min: xRange[0], max: xRange[1], display: false},
        y: {type: 'linear', min: yRange[0], max: yRange[1], display: false}
      },
      events: []
    },
    plugins: [makeDeco(i, row, col)]
  });
}
</script>
</body>
</html>
